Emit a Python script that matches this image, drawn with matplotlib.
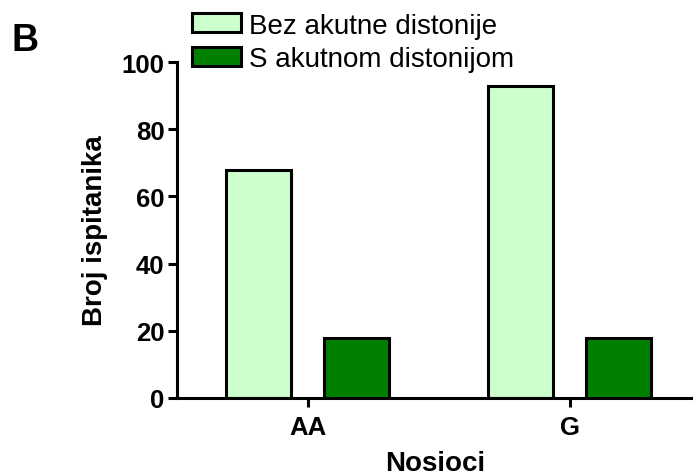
import matplotlib

matplotlib.use("Agg")
import matplotlib.pyplot as plt
import numpy as np

# genotype carriers, split by acute dystonia status
categories = ["AA", "G"]
bez_distonije = [68, 93]
s_distonijom = [18, 18]
series_labels = ["Bez akutne distonije", "S akutnom distonijom"]

plt.rcParams["font.family"] = ["Liberation Sans", "DejaVu Sans"]

fig = plt.figure(figsize=(6.93, 4.77), dpi=100)
ax = fig.add_axes([177 / 693, 1 - 399 / 477, (693 - 177) / 693, (399 - 63) / 477])

x = np.arange(len(categories))
width = 0.248
offset = 0.187
h1 = ax.bar(x - offset, bez_distonije, width, color="#CCFFCC", edgecolor="black", linewidth=2.2)
h2 = ax.bar(x + offset, s_distonijom, width, color="#008000", edgecolor="black", linewidth=2.2)

ax.set_xlim(-0.498, 1.471)
ax.set_ylim(0, 100)
ax.set_yticks([0, 20, 40, 60, 80, 100])
ax.set_xticks(x)
ax.set_xticklabels(categories)

for s in ["top", "right"]:
    ax.spines[s].set_visible(False)
for s in ["left", "bottom"]:
    ax.spines[s].set_linewidth(2.2)
ax.tick_params(width=2.2, length=6.5, direction="out", labelsize=18.5)
ax.tick_params(axis="y", pad=2.5)
ax.tick_params(axis="x", pad=5.5)
for lbl in ax.get_xticklabels() + ax.get_yticklabels():
    lbl.set_fontweight("bold")

ax.set_ylabel("Broj ispitanika", fontsize=20, fontweight="bold", labelpad=10)
ax.set_xlabel("Nosioci", fontsize=20, fontweight="bold", labelpad=8.5)

ax.legend([h1, h2], series_labels, loc="upper left", bbox_to_anchor=(0.008, 1.18),
          frameon=False, fontsize=20, handlelength=1.75, handleheight=0.68,
          handletextpad=0.3, labelspacing=0.27, borderaxespad=0)

fig.text(12 / 693, 1 - 51 / 477, "B", fontsize=27, fontweight="bold", va="baseline")

fig.savefig("out.png", dpi=100)
plt.close(fig)
